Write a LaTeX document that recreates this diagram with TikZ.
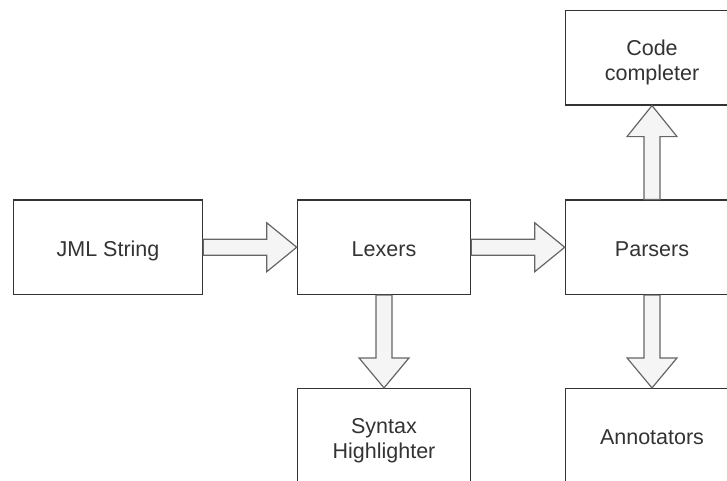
\documentclass[tikz,border=0pt]{standalone}
\usepackage{fontspec}
\setmainfont{Liberation Sans}
\usetikzlibrary{calc}
\definecolor{txt}{HTML}{333333}
\definecolor{edge}{HTML}{333333}
\definecolor{afill}{HTML}{F5F5F5}
\definecolor{aline}{HTML}{666666}
\newcommand{\twolines}[2]{\begin{tabular}[b]{@{}c@{}}#1\\#2\end{tabular}}
\tikzset{
  box/.style={draw=edge, line width=1.2pt, fill=white, text=txt,
    font=\fontsize{21.5pt}{25.5pt}\selectfont, inner sep=0pt,
    minimum width=173.4pt, minimum height=94.5pt},
  oneline/.style={text height=20pt, text depth=2pt},
  twoline/.style={text height=48pt, text depth=2pt},
  barrow/.style={draw=aline, fill=afill, line width=1.2pt, line join=miter}
}
\begin{document}
\begin{tikzpicture}[x=1pt,y=-1pt]
\useasboundingbox (0,0) rectangle (727,480);
\node[box, oneline, minimum width=189.4pt] (jml) at (108,247.25) {JML String};
\node[box, oneline] (lex) at (384,247.25) {Lexers};
\node[box, oneline] (par) at (652,247.25) {Parsers};
\node[box, twoline, minimum height=94.7pt] (code) at (652,57.65) {\twolines{Code}{completer}};
\node[box, twoline] (syn) at (384,435.75) {\twolines{Syntax}{Highlighter}};
\node[box, oneline] (ann) at (652,435.75) {Annotators};
% horizontal arrows
\draw[barrow] ($(jml.east)+(0,-8)$) -- ($(lex.west)+(-30,-8)$) -- ($(lex.west)+(-30,-24.5)$) -- (lex.west)
  -- ($(lex.west)+(-30,24.5)$) -- ($(lex.west)+(-30,8)$) -- ($(jml.east)+(0,8)$) -- cycle;
\draw[barrow] ($(lex.east)+(0,-8)$) -- ($(par.west)+(-30,-8)$) -- ($(par.west)+(-30,-24.5)$) -- (par.west)
  -- ($(par.west)+(-30,24.5)$) -- ($(par.west)+(-30,8)$) -- ($(lex.east)+(0,8)$) -- cycle;
% down arrows
\draw[barrow] ($(lex.south)+(-8,0)$) -- ($(syn.north)+(-8,-30)$) -- ($(syn.north)+(-25,-30)$) -- (syn.north)
  -- ($(syn.north)+(25,-30)$) -- ($(syn.north)+(8,-30)$) -- ($(lex.south)+(8,0)$) -- cycle;
\draw[barrow] ($(par.south)+(-8,0)$) -- ($(ann.north)+(-8,-30)$) -- ($(ann.north)+(-25,-30)$) -- (ann.north)
  -- ($(ann.north)+(25,-30)$) -- ($(ann.north)+(8,-30)$) -- ($(par.south)+(8,0)$) -- cycle;
% up arrow
\draw[barrow] ($(par.north)+(-8,0)$) -- ($(code.south)+(-8,31)$) -- ($(code.south)+(-25,31)$) -- (code.south)
  -- ($(code.south)+(25,31)$) -- ($(code.south)+(8,31)$) -- ($(par.north)+(8,0)$) -- cycle;
\end{tikzpicture}
\end{document}
